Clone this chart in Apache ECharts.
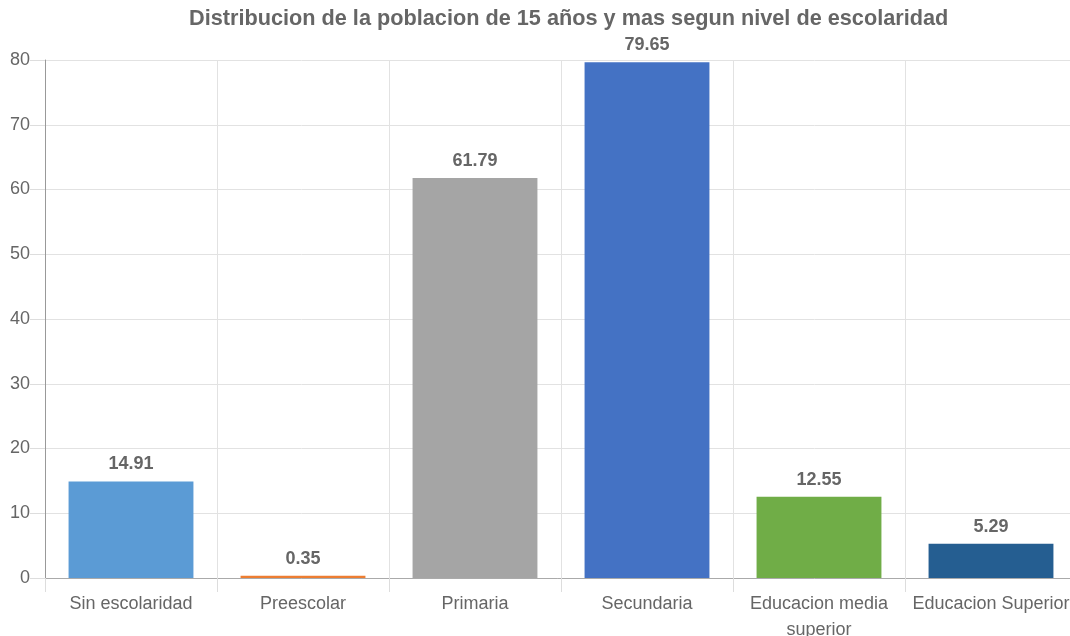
<!DOCTYPE html>
<html>
<head>
<meta charset="utf-8">
<script src="https://cdn.jsdelivr.net/npm/echarts@6/dist/echarts.min.js"></script>
<style>
  html, body { margin: 0; padding: 0; background: #fff; }
  #chart { width: 1070px; height: 636px; }
</style>
</head>
<body>
<div id="chart"></div>
<script>
// Niveles de escolaridad y sus valores
var categories = ['Sin escolaridad', 'Preescolar', 'Primaria', 'Secundaria', 'Educacion media\nsuperior', 'Educacion Superior'];
var values = [14.91, 0.35, 61.79, 79.65, 12.55, 5.29];
var colors = ['#5b9bd5', '#ed7d31', '#a5a5a5', '#4472c4', '#70ad47', '#255e91'];
var yTicks = { min: 0, max: 80, interval: 10 };

var font = '"Liberation Sans", Arial, sans-serif';
var chart = echarts.init(document.getElementById('chart'));
chart.setOption({
  animation: false,
  title: {
    text: 'Distribucion de la poblacion de 15 años y mas segun nivel de escolaridad',
    left: 189,
    top: 8,
    padding: 0,
    textStyle: { fontFamily: font, fontSize: 21.7, fontWeight: 'bold', color: '#666' }
  },
  grid: { left: 45, top: 60, width: 1032, height: 518, outerBoundsMode: 'none', containLabel: false },
  xAxis: {
    type: 'category',
    data: categories,
    axisLine: { lineStyle: { color: '#aaa' } },
    axisTick: { show: true, length: 14, lineStyle: { color: '#ddd' } },
    axisLabel: { margin: 13, fontFamily: font, fontSize: 18, color: '#666', lineHeight: 26, interval: 0 },
    splitLine: { show: true, lineStyle: { color: '#e2e2e2' } }
  },
  yAxis: {
    type: 'value',
    min: yTicks.min,
    max: yTicks.max,
    interval: yTicks.interval,
    axisLine: { show: true, lineStyle: { color: '#999' } },
    axisTick: { show: true, length: 15, lineStyle: { color: '#ddd' } },
    axisLabel: { margin: 15, fontFamily: font, fontSize: 18, color: '#666' },
    splitLine: { show: true, lineStyle: { color: '#e2e2e2' } }
  },
  series: [{
    type: 'bar',
    barWidth: '72.6%',
    data: values.map(function (v, i) {
      return { value: v, itemStyle: { color: colors[i] } };
    }),
    label: {
      show: true,
      position: 'top',
      distance: 8,
      fontFamily: font,
      fontSize: 18,
      fontWeight: 'bold',
      color: '#666'
    }
  }]
});
</script>
</body>
</html>
